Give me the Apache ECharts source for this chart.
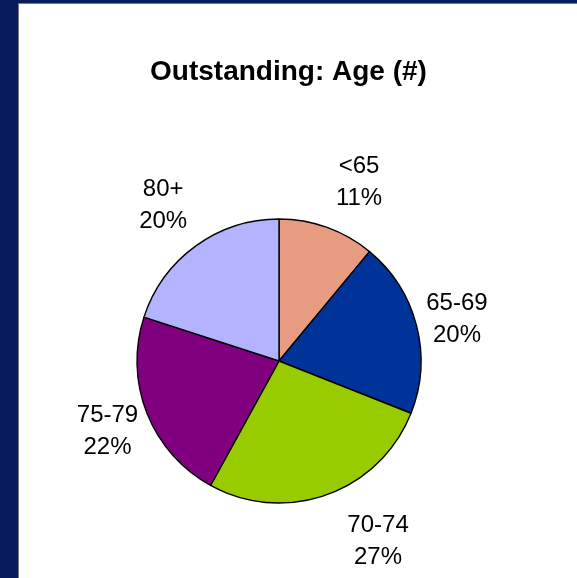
<!DOCTYPE html>
<html>
<head>
<meta charset="utf-8">
<title>Outstanding: Age (#)</title>
<script src="https://cdn.jsdelivr.net/npm/echarts@6/dist/echarts.min.js"></script>
<style>
  html, body { margin: 0; padding: 0; background: #081b5c; }
  #chart { width: 577px; height: 578px; }
</style>
</head>
<body>
<div id="chart"></div>
<script>
// Age bands and their share of outstanding count (%)
var ageBands = ['<65', '65-69', '70-74', '75-79', '80+'];
var shares = [11, 20, 27, 22, 20];
var bandColors = ['#e79b80', '#003399', '#99cc00', '#800080', '#b3b3ff'];
// Small per-label nudges (px) away from the plain mid-angle placement
var labelNudge = [[15, 2], [-8, 6], [34, 0], [7, 0], [-3, 0]];

var chart = echarts.init(document.getElementById('chart'), null, { renderer: 'canvas' });

var pieData = ageBands.map(function (name, i) {
  return { name: name, value: shares[i], itemStyle: { color: bandColors[i] } };
});

chart.setOption({
  backgroundColor: '#081b5c',
  animation: false,
  graphic: [{
    type: 'rect',
    shape: { x: 18.5, y: 3.5, width: 600, height: 600 },
    style: { fill: '#ffffff', stroke: '#7a7a7a', lineWidth: 1 },
    z: -10,
    silent: true
  }],
  title: {
    text: 'Outstanding: Age (#)',
    left: 'center',
    top: 53,
    textStyle: {
      fontFamily: 'Liberation Sans, Arial, sans-serif',
      fontWeight: 'bold',
      fontSize: 28,
      color: '#000000'
    }
  },
  series: [{
    type: 'pie',
    center: [279, 361],
    radius: 142,
    startAngle: 90,
    clockwise: true,
    avoidLabelOverlap: false,
    data: pieData,
    itemStyle: { borderColor: '#000000', borderWidth: 1.4 },
    emphasis: { disabled: true },
    label: {
      show: true,
      position: 'outside',
      formatter: '{b}\n{d}%',
      fontFamily: 'Liberation Sans, Arial, sans-serif',
      fontSize: 24,
      lineHeight: 32,
      color: '#000000',
      distanceToLabelLine: 0
    },
    labelLine: { show: false, length: 50, length2: 0 },
    labelLayout: function (params) {
      var n = labelNudge[params.dataIndex] || [0, 0];
      return { align: 'center', verticalAlign: 'middle', dx: n[0], dy: n[1] };
    }
  }]
});
</script>
</body>
</html>
